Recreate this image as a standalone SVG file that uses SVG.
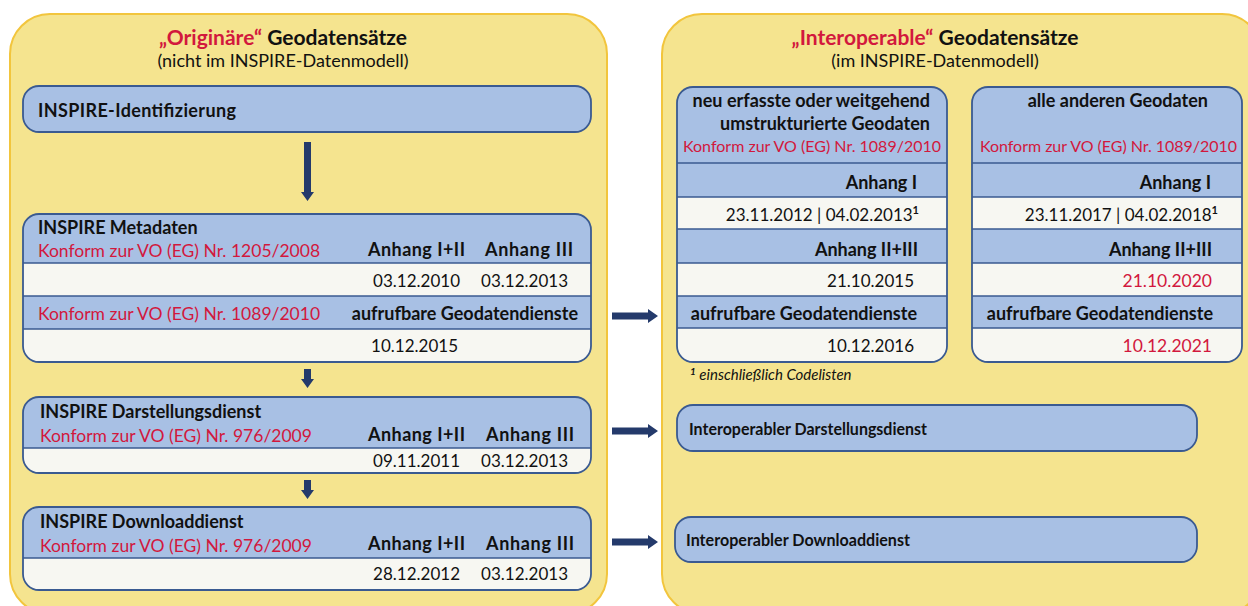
<svg xmlns="http://www.w3.org/2000/svg" width="1248" height="606" viewBox="0 0 1248 606">
<defs>
<style>
.panel{fill:#f5e48f;stroke:#f2c53d;stroke-width:2}
.blue{fill:#a8c0e4}
.white{fill:#f7f7f2}
.outline{fill:none;stroke:#3a5a91;stroke-width:1.8}
.sep{stroke:#3a5a91;stroke-width:1.6}
text{font-family:Lato,"Liberation Sans",sans-serif;font-size:17px;fill:#111}
.b{font-weight:bold;font-size:18px}
.r{fill:#d2183d;font-size:17.5px}
.rs{fill:#d2183d;font-size:16px}
.red{fill:#d2183d}
.e{text-anchor:end}
.t{font-size:21px;font-weight:bold}
.s{font-size:18px}
.fn{font-size:15px;font-style:italic}
.ib{font-weight:bold;font-size:17px}
.arrow{fill:#243a6b}
</style>
<clipPath id="cMeta"><rect x="23" y="214" width="568" height="148" rx="16"/></clipPath>
<clipPath id="cDar"><rect x="23" y="397" width="568" height="76" rx="16"/></clipPath>
<clipPath id="cDl"><rect x="23" y="507" width="568" height="83" rx="16"/></clipPath>
<clipPath id="cA"><rect x="677" y="87" width="270" height="275" rx="16"/></clipPath>
<clipPath id="cB"><rect x="972" y="87" width="270" height="275" rx="16"/></clipPath>
</defs>

<g id="panel-left">
<rect class="panel" x="10" y="14" width="597" height="600" rx="40"/>
<text x="283" y="45" text-anchor="middle" class="t"><tspan class="red">„Originäre“</tspan> Geodatensätze</text>
<text x="283" y="67" text-anchor="middle" class="s">(nicht im INSPIRE-Datenmodell)</text>
</g>

<g id="panel-right">
<rect class="panel" x="662" y="14" width="600" height="600" rx="40"/>
<text x="935" y="45" text-anchor="middle" class="t"><tspan class="red">„Interoperable“</tspan> Geodatensätze</text>
<text x="935" y="67" text-anchor="middle" class="s">(im INSPIRE-Datenmodell)</text>
</g>

<g id="node-identifizierung">
<rect x="23" y="86" width="568" height="46" rx="16" class="blue"/>
<rect x="23" y="86" width="568" height="46" rx="16" class="outline"/>
<text x="38" y="117" class="b" textLength="198">INSPIRE-Identifizierung</text>
</g>

<g id="node-metadaten">
<g clip-path="url(#cMeta)">
<rect x="23" y="214" width="568" height="148" class="white"/>
<rect x="23" y="214" width="568" height="49" class="blue"/>
<rect x="23" y="296" width="568" height="33" class="blue"/>
</g>
<line x1="23" y1="263" x2="591" y2="263" class="sep"/>
<line x1="23" y1="296" x2="591" y2="296" class="sep"/>
<line x1="23" y1="329" x2="591" y2="329" class="sep"/>
<rect x="23" y="214" width="568" height="148" rx="16" class="outline"/>
<text x="38" y="234" class="b">INSPIRE Metadaten</text>
<text x="38" y="257" class="r">Konform zur VO (EG) Nr. 1205/2008</text>
<text x="465" y="256" class="b e" textLength="97">Anhang I+II</text>
<text x="573" y="256" class="b e" textLength="88">Anhang III</text>
<text x="460" y="287" class="e">03.12.2010</text>
<text x="568" y="287" class="e">03.12.2013</text>
<text x="38" y="320" class="r">Konform zur VO (EG) Nr. 1089/2010</text>
<text x="578" y="320" class="b e">aufrufbare Geodatendienste</text>
<text x="458" y="352" class="e">10.12.2015</text>
</g>

<g id="node-darstellung">
<g clip-path="url(#cDar)">
<rect x="23" y="397" width="568" height="76" class="white"/>
<rect x="23" y="397" width="568" height="51" class="blue"/>
</g>
<line x1="23" y1="448" x2="591" y2="448" class="sep"/>
<rect x="23" y="397" width="568" height="76" rx="16" class="outline"/>
<text x="40" y="418" class="b">INSPIRE Darstellungsdienst</text>
<text x="40" y="442" class="r">Konform zur VO (EG) Nr. 976/2009</text>
<text x="465" y="441" class="b e" textLength="97">Anhang I+II</text>
<text x="574" y="441" class="b e" textLength="88">Anhang III</text>
<text x="460" y="467" class="e">09.11.2011</text>
<text x="568" y="467" class="e">03.12.2013</text>
</g>

<g id="node-download">
<g clip-path="url(#cDl)">
<rect x="23" y="507" width="568" height="83" class="white"/>
<rect x="23" y="507" width="568" height="51" class="blue"/>
</g>
<line x1="23" y1="558" x2="591" y2="558" class="sep"/>
<rect x="23" y="507" width="568" height="83" rx="16" class="outline"/>
<text x="40" y="528" class="b">INSPIRE Downloaddienst</text>
<text x="40" y="552" class="r">Konform zur VO (EG) Nr. 976/2009</text>
<text x="465" y="550" class="b e" textLength="97">Anhang I+II</text>
<text x="574" y="550" class="b e" textLength="88">Anhang III</text>
<text x="460" y="580" class="e">28.12.2012</text>
<text x="568" y="580" class="e">03.12.2013</text>
</g>

<g id="node-neu">
<g clip-path="url(#cA)">
<rect x="677" y="87" width="270" height="275" class="white"/>
<rect x="677" y="87" width="270" height="110" class="blue"/>
<rect x="677" y="229" width="270" height="34" class="blue"/>
<rect x="677" y="296" width="270" height="32" class="blue"/>
</g>
<line x1="677" y1="163" x2="947" y2="163" class="sep"/>
<line x1="677" y1="197" x2="947" y2="197" class="sep"/>
<line x1="677" y1="229" x2="947" y2="229" class="sep"/>
<line x1="677" y1="263" x2="947" y2="263" class="sep"/>
<line x1="677" y1="296" x2="947" y2="296" class="sep"/>
<line x1="677" y1="328" x2="947" y2="328" class="sep"/>
<rect x="677" y="87" width="270" height="275" rx="16" class="outline"/>
<text x="930" y="107" class="b e">neu erfasste oder weitgehend</text>
<text x="930" y="130" class="b e">umstrukturierte Geodaten</text>
<text x="941" y="152" class="rs e" textLength="258">Konform zur VO (EG) Nr. 1089/2010</text>
<text x="917" y="189" class="b e">Anhang I</text>
<text x="919" y="221" class="e">23.11.2012 | 04.02.2013<tspan dy="-7" font-size="11" font-weight="bold">1</tspan></text>
<text x="918" y="256" class="b e">Anhang II+III</text>
<text x="914" y="287" class="e">21.10.2015</text>
<text x="917" y="320" class="b e">aufrufbare Geodatendienste</text>
<text x="914" y="352" class="e">10.12.2016</text>
</g>

<g id="node-alle">
<g clip-path="url(#cB)">
<rect x="972" y="87" width="270" height="275" class="white"/>
<rect x="972" y="87" width="270" height="110" class="blue"/>
<rect x="972" y="229" width="270" height="34" class="blue"/>
<rect x="972" y="296" width="270" height="32" class="blue"/>
</g>
<line x1="972" y1="163" x2="1242" y2="163" class="sep"/>
<line x1="972" y1="197" x2="1242" y2="197" class="sep"/>
<line x1="972" y1="229" x2="1242" y2="229" class="sep"/>
<line x1="972" y1="263" x2="1242" y2="263" class="sep"/>
<line x1="972" y1="296" x2="1242" y2="296" class="sep"/>
<line x1="972" y1="328" x2="1242" y2="328" class="sep"/>
<rect x="972" y="87" width="270" height="275" rx="16" class="outline"/>
<text x="1208" y="107" class="b e">alle anderen Geodaten</text>
<text x="1237" y="152" class="rs e" textLength="257">Konform zur VO (EG) Nr. 1089/2010</text>
<text x="1211" y="189" class="b e">Anhang I</text>
<text x="1218" y="221" class="e">23.11.2017 | 04.02.2018<tspan dy="-7" font-size="11" font-weight="bold">1</tspan></text>
<text x="1212" y="256" class="b e">Anhang II+III</text>
<text x="1212" y="287" class="r e">21.10.2020</text>
<text x="1213" y="320" class="b e">aufrufbare Geodatendienste</text>
<text x="1212" y="352" class="r e">10.12.2021</text>
</g>

<g id="footnote">
<text x="690" y="380" class="fn"><tspan font-size="10" dy="-5" font-weight="bold">1</tspan><tspan dy="5"> einschließlich Codelisten</tspan></text>
</g>

<g id="node-int-darstellung">
<rect x="677" y="405" width="520" height="46" rx="16" class="blue"/>
<rect x="677" y="405" width="520" height="46" rx="16" class="outline"/>
<text x="689" y="435" class="ib" textLength="238" lengthAdjust="spacingAndGlyphs">Interoperabler Darstellungsdienst</text>
</g>

<g id="node-int-download">
<rect x="675" y="517" width="522" height="45" rx="16" class="blue"/>
<rect x="675" y="517" width="522" height="45" rx="16" class="outline"/>
<text x="686" y="546" class="ib" textLength="224" lengthAdjust="spacingAndGlyphs">Interoperabler Downloaddienst</text>
</g>

<g id="connectors">
<path class="arrow" d="M304,142 H311 V192 H314 L307.5,201 L301,192 H304 Z"/>
<path class="arrow" d="M304,369 H311 V379 H314 L307.5,388 L301,379 H304 Z"/>
<path class="arrow" d="M304,480 H311 V490 H314 L307.5,499 L301,490 H304 Z"/>
<path class="arrow" d="M612,312.5 H648 V309 L658,316 L648,323 V319.5 H612 Z"/>
<path class="arrow" d="M612,427.5 H648 V424 L658,431 L648,438 V434.5 H612 Z"/>
<path class="arrow" d="M612,538.5 H648 V535 L658,542 L648,549 V545.5 H612 Z"/>
</g>
</svg>
